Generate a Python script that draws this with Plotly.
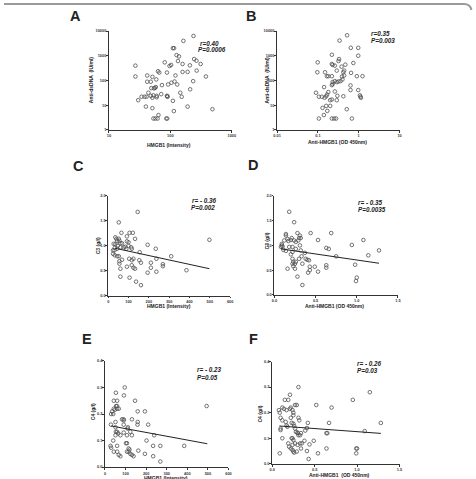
import plotly.graph_objects as go

W, H = 476, 479

# ---------------- data ----------------
a_x = [238,163,110,115,126,138,133,158,103,97,81,63,66,88,121,158,191,208,244,266,
       311,268,235,379,210,27,27,42,51,42,48,59,73,92,104,117,129,145,153,110,
       89,90,88,71,58,56,54,49,53,60,60,44,48,41,38,34,30,51,40,51,
       114,191,484,64,53,57,62,86,89]
a_y = [6300,3980,2030,2030,1060,940,612,464,424,386,541,236,209,209,159,222,222,410,736,631,
       464,251,94,145,44,398,145,159,140,89,89,110,65,69,81,91,69,32,22,15,
       23,22,24,28,54,50,48,49,25,24,21,32,24,22,22,22,16,20,8.8,7.6,
       5.8,8.8,6.9,4,2.9,2.9,2.9,2.9,2.9]

b_x = [0.52,0.34,0.64,0.975,0.975,0.22,0.099,0.22,0.23,0.26,0.33,0.32,0.47,0.38,0.74,0.097,0.15,0.166,0.18,0.29,
       0.22,0.44,0.42,0.44,0.39,0.65,0.9,1.24,0.36,0.32,0.29,0.26,0.23,0.40,0.23,0.22,0.142,0.18,0.168,0.16,
       0.26,0.30,0.42,0.09,0.106,0.125,0.146,0.2,0.22,0.29,0.63,0.63,0.975,1.07,1.11,1.13,0.16,0.2,0.13,0.17,
       0.51,0.14,0.106,0.22,0.25,0.28,0.68]
b_y = [6700,4100,2090,2090,1000,1096,541,464,424,398,736,612,436,363,509,215,215,149,149,251,
       149,251,215,159,145,203,149,149,94,91,86,94,86,110,71,65,54,34,27,23,
       36,24,23,32,22,22,20,16,17,16,63,41,41,25,22,20,9.4,9.4,7.8,5.9,
       6.9,4,2.9,2.9,2.9,2.9,2.9]

c_x = [145,52,65,105,121,92,35,40,52,55,44,132,27,35,47,60,68,92,100,100,
       32,24,31,44,60,76,84,89,113,116,24,32,44,52,55,55,68,103,116,124,
       155,153,161,194,234,237,210,210,269,269,310,385,498,92,116,132,124,60,60,105,
       194,237,137,161]
c_y = [1.68,1.47,1.26,1.26,1.26,1.19,1.17,1.14,1.14,1.1,1.1,1.14,1.04,1.03,1.0,1.05,1.05,1.09,1.07,1.0,
       0.96,0.91,0.91,0.94,0.97,0.97,0.98,0.94,0.97,0.94,0.84,0.81,0.79,0.79,0.64,0.69,0.72,0.74,0.71,0.74,
       0.87,0.71,0.66,1.02,0.94,0.74,0.66,0.56,0.63,0.59,0.79,0.51,1.12,0.58,0.61,0.54,0.56,0.54,0.38,0.36,
       0.46,0.48,0.28,0.21]

d_x = [0.18,0.24,0.14,0.14,0.28,0.31,0.32,0.44,0.69,0.53,1.08,0.94,0.63,0.66,0.75,1.14,1.27,0.98,1.0,0.99,
       0.09,0.09,0.10,0.08,0.12,0.16,0.17,0.2,0.21,0.24,0.26,0.3,0.29,0.11,0.14,0.18,0.22,0.26,0.32,0.31,
       0.22,0.2,0.37,0.3,0.33,0.22,0.23,0.22,0.26,0.25,0.38,0.4,0.42,0.34,0.16,0.23,0.25,0.43,0.49,0.43,
       0.41,0.53,0.63,0.63,0.28,0.34]
d_y = [1.68,1.47,1.23,1.2,1.25,1.2,1.15,1.25,1.25,1.11,1.11,1.01,0.95,0.93,0.78,0.8,0.9,0.61,0.35,0.28,
       1.03,1.0,0.98,0.97,1.1,1.13,1.09,1.11,1.15,1.1,1.07,1.15,1.1,0.91,0.89,0.97,0.97,0.93,0.9,1.0,
       0.87,0.82,0.85,0.73,0.78,0.73,0.67,0.63,0.67,0.63,0.73,0.71,0.7,0.63,0.53,0.58,0.53,0.57,0.57,0.5,
       0.45,0.47,0.6,0.55,0.37,0.2]

e_x = [96,53,92,43,59,146,54,59,67,59,43,48,35,40,30,83,91,91,91,159,
       194,131,159,158,29,51,51,53,59,64,75,51,111,110,123,107,131,210,91,202,
       239,40,102,107,27,30,59,115,119,107,115,123,131,139,43,59,67,75,162,234,
       269,385,194,234,269,494]
e_y = [0.30,0.28,0.27,0.25,0.25,0.25,0.23,0.23,0.22,0.22,0.22,0.216,0.21,0.2,0.2,0.18,0.18,0.176,0.16,0.21,
       0.21,0.18,0.17,0.16,0.16,0.17,0.15,0.133,0.133,0.127,0.12,0.12,0.15,0.145,0.133,0.12,0.12,0.16,0.13,0.1,
       0.12,0.1,0.09,0.09,0.08,0.073,0.08,0.07,0.066,0.058,0.058,0.05,0.046,0.041,0.058,0.058,0.046,0.041,0.062,0.08,
       0.08,0.08,0.05,0.041,0.021,0.23]

f_x = [0.31,0.21,0.15,0.19,0.29,0.27,0.52,0.95,1.15,0.70,0.08,0.09,0.12,0.14,0.17,0.22,0.24,0.21,0.31,0.32,
       0.22,0.25,0.25,0.1,0.12,0.16,0.17,0.18,0.23,0.25,0.26,0.27,0.42,0.67,1.28,0.1,0.1,0.28,0.3,0.31,
       0.3,0.41,0.39,0.34,0.33,0.12,0.23,0.24,0.25,0.19,0.24,0.27,0.3,0.33,0.35,0.38,0.49,0.44,0.2,0.22,
       0.24,0.25,0.26,0.29,0.34,0.41,0.54,0.43,0.64,0.09,0.99,1.0,0.99,1.09,0.64,0.65]
f_y = [0.30,0.27,0.25,0.25,0.23,0.23,0.23,0.25,0.28,0.22,0.21,0.2,0.22,0.215,0.21,0.22,0.21,0.215,0.18,0.17,
       0.18,0.19,0.2,0.18,0.17,0.164,0.15,0.145,0.16,0.157,0.148,0.138,0.16,0.16,0.16,0.138,0.132,0.125,0.122,0.112,
       0.12,0.14,0.13,0.12,0.112,0.1,0.1,0.1,0.093,0.08,0.074,0.08,0.074,0.08,0.08,0.09,0.09,0.076,0.067,0.06,
       0.054,0.048,0.044,0.048,0.06,0.05,0.041,0.019,0.06,0.041,0.06,0.06,0.041,0.128,0.12,0.12]

# regression lines (end points)
fit_c_x, fit_c_y = [35, 498], [0.95, 0.54]
fit_d_x, fit_d_y = [0.08, 1.27], [0.93, 0.64]
fit_e_x, fit_e_y = [30, 497], [0.155, 0.088]
fit_f_x, fit_f_y = [0.085, 1.28], [0.148, 0.119]

panel_labels = ["A", "B", "C", "D", "E", "F"]
stats_r = ["r=0.40", "r=0.35", "r= - 0.36", "r= - 0.35", "r= - 0.23", "r= - 0.26"]
stats_p = ["P=0.0006", "P=0.003", "P=0.002", "P=0.0035", "P=0.05", "P=0.03"]
x_titles = ["HMGB1 (Intensity)", "Anti-HMGB1 (OD 450nm)", "HMGB1 (Intensity)",
            "Anti-HMGB1 (OD 450nm)", "HMGB1 (Intensity)", "Anti-HMGB1  (OD 450nm)"]
y_titles = ["Anti-dsDNA  (IU/ml)", "Anti-dsDNA  (IU/ml)", "C3 (g/l)", "C3 (g/l)", "C4 (g/l)", "C4 (g/l)"]

# ---------------- layout geometry (pixels) ----------------
boxes = [
    (106.7, 231.7, 28.3, 128.3),
    (277.7, 402.3, 28.3, 128.3),
    (106.0, 230.0, 195.0, 295.7),
    (275.0, 400.7, 195.0, 295.0),
    (102.7, 228.3, 361.7, 469.0),
    (272.7, 402.3, 362.3, 465.7),
]

def px(x):
    return x / W

def py(y):
    return 1 - y / H

FONT = "Arial, Liberation Sans, sans-serif"
MK = dict(symbol="circle-open", size=3.6, color="#505050", line=dict(width=0.8, color="#505050"))

fig = go.Figure()
series = [(a_x, a_y), (b_x, b_y), (c_x, c_y), (d_x, d_y), (e_x, e_y), (f_x, f_y)]
fits = [None, None, (fit_c_x, fit_c_y), (fit_d_x, fit_d_y), (fit_e_x, fit_e_y), (fit_f_x, fit_f_y)]

for i, (sx, sy) in enumerate(series):
    suf = "" if i == 0 else str(i + 1)
    fig.add_trace(go.Scatter(x=sx, y=sy, mode="markers", marker=MK,
                             xaxis="x" + suf, yaxis="y" + suf, showlegend=False,
                             cliponaxis=False))
    if fits[i] is not None:
        fig.add_trace(go.Scatter(x=fits[i][0], y=fits[i][1], mode="lines",
                                 line=dict(color="#222", width=1),
                                 xaxis="x" + suf, yaxis="y" + suf, showlegend=False))

tickfont = dict(family=FONT, size=3.9, color="#333", weight="bold")
axis_common = dict(showline=True, linecolor="#333", linewidth=1, ticks="outside",
                   ticklen=1.8, tickwidth=0.8, tickcolor="#333", showgrid=False,
                   zeroline=False, tickfont=tickfont)

xcfg = [
    dict(type="log", range=[1, 3], tickvals=[10, 100, 1000], ticktext=["10", "100", "1000"]),
    dict(type="log", range=[-2, 1], tickvals=[0.01, 0.1, 1, 10], ticktext=["0.01", "0.1", "1", "10"]),
    dict(range=[0, 600], tickvals=[0, 100, 200, 300, 400, 500, 600]),
    dict(range=[0, 1.5], tickvals=[0, 0.5, 1.0, 1.5], tickformat=".1f"),
    dict(range=[0, 600], tickvals=[0, 100, 200, 300, 400, 500, 600]),
    dict(range=[0, 1.5], tickvals=[0, 0.5, 1.0, 1.5], tickformat=".1f"),
]
ycfg = [
    dict(type="log", range=[0, 4], tickvals=[1, 10, 100, 1000, 10000], ticktext=["1", "10", "100", "1000", "10000"]),
    dict(type="log", range=[0, 4], tickvals=[1, 10, 100, 1000, 10000], ticktext=["1", "10", "100", "1000", "10000"]),
    dict(range=[0, 2], tickvals=[0, 0.5, 1.0, 1.5, 2.0], tickformat=".1f"),
    dict(range=[0, 2], tickvals=[0, 0.5, 1.0, 1.5, 2.0], tickformat=".1f"),
    dict(range=[0, 0.4], tickvals=[0, 0.1, 0.2, 0.3, 0.4], tickformat=".1f"),
    dict(range=[0, 0.4], tickvals=[0, 0.1, 0.2, 0.3, 0.4], tickformat=".1f"),
]

layout = dict(width=W, height=H, margin=dict(l=0, r=0, t=0, b=0),
              paper_bgcolor="white", plot_bgcolor="white", showlegend=False)
for i, (l, r, t, b) in enumerate(boxes):
    suf = "" if i == 0 else str(i + 1)
    xa = dict(axis_common, domain=[px(l), px(r)], anchor="y" + suf, **xcfg[i])
    ya = dict(axis_common, domain=[py(b), py(t)], anchor="x" + suf, ticklabelstandoff=-1, **ycfg[i])
    layout["xaxis" + suf] = xa
    layout["yaxis" + suf] = ya

ann = []
def text(x, y, s, size, bold=True, italic=False, angle=0, xa="left", ya="middle"):
    st = s
    if italic:
        st = "<i>" + st + "</i>"
    ann.append(dict(x=px(x), y=py(y), xref="paper", yref="paper", text=st, showarrow=False,
                    xanchor=xa, yanchor=ya, textangle=angle, borderpad=0,
                    font=dict(family=FONT, size=size, color="#222",
                              weight="bold" if bold else "normal")))

letter_pos = [(66.5, 13.5), (245.5, 13.5), (69.5, 165), (247, 164), (78.5, 340), (248.5, 340)]
r_pos = [(198, 40.7), (372.5, 30.7), (190.5, 200), (359, 201.7), (195.5, 370), (358, 364)]
p_pos = [(196.5, 46.9), (372.5, 38.3), (189, 207), (359, 209), (195.5, 378.3), (358, 371.7)]
xt_pos = [(168.3, 143.6), (339.5, 140.3), (167.7, 306.6), (336.0, 306.0), (165.0, 479.8), (341.7, 477.0)]
yt_pos = [(88.5, 78.0), (267.8, 78.0), (96.5, 245.0), (268.5, 240.0), (90.0, 413.0), (260.2, 415.0)]

for i in range(6):
    text(*letter_pos[i], panel_labels[i], 14.5, xa="left")
    text(*r_pos[i], stats_r[i], 6.3, italic=True)
    text(*p_pos[i], stats_p[i], 6.3, italic=True)
    text(*xt_pos[i], x_titles[i], 5.0, xa="center")
    text(*yt_pos[i], y_titles[i], 5.0, angle=-90, xa="center")

layout["annotations"] = ann

# thin gray frame line at the top with rounded right corner
layout["shapes"] = [dict(type="path", xref="paper", yref="paper",
                         path=f"M 0 {py(1)} L {px(468)} {py(1)} Q {px(474)} {py(1)} {px(475.5)} {py(7)}",
                         line=dict(color="#9a9a9a", width=2))]

fig.update_layout(**layout)
fig.write_html("out.html")
